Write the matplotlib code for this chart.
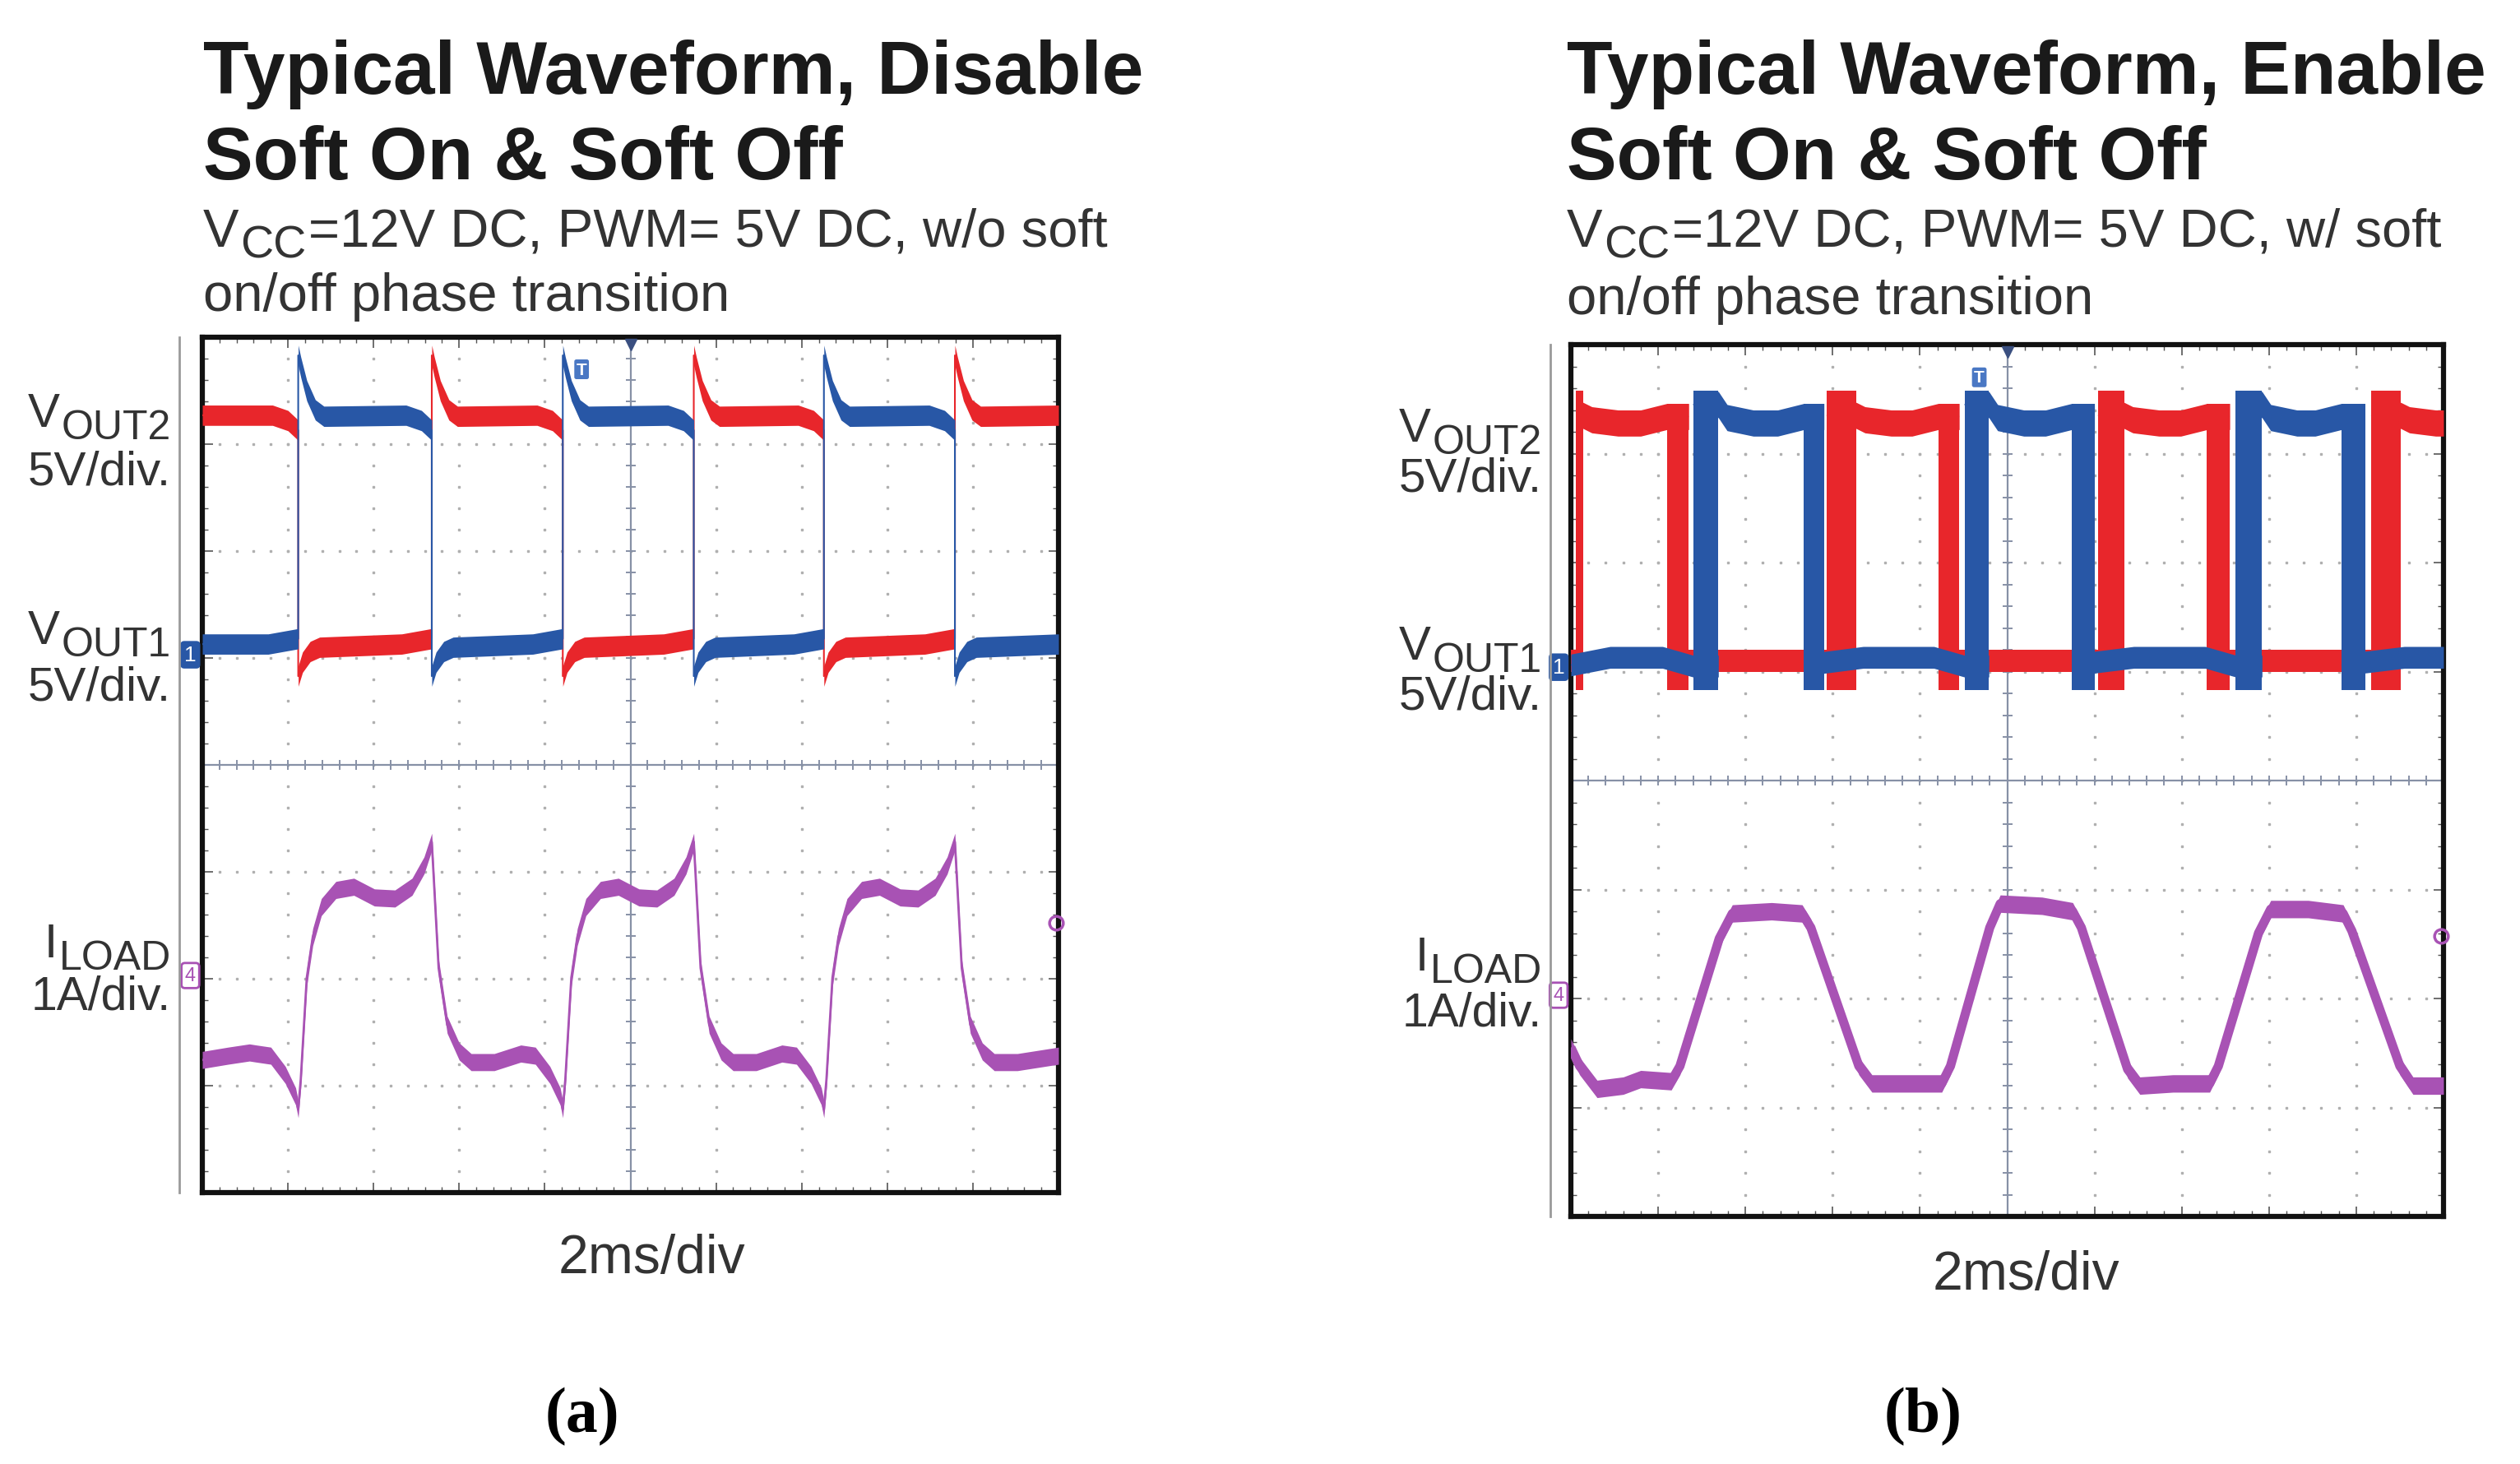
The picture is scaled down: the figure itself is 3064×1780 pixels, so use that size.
import matplotlib
matplotlib.use('Agg')
import numpy as np
import matplotlib.pyplot as plt
from matplotlib.lines import Line2D

W, H = 3064, 1781
DPI = 100

RED = '#e8262b'
BLUE = '#2857a6'
PURPLE = '#a852b4'
GRID = '#b0b0b0'
AXIS = '#8791a6'
TEXT = '#333333'

plt.rcParams['font.family'] = ['Liberation Sans', 'DejaVu Sans']

# ---------- panel (a): disable soft on / soft off ----------
A_EDGES = [1.12, 2.68, 4.21, 5.74, 7.26, 8.79]      # switching instants (div)
HI_FLAT = 3.27
HI_HEAD_DT = [0.0, 0.03, 0.10, 0.20, 0.30]
HI_HEAD_V = [3.83, 3.72, 3.50, 3.32, 3.26]
HI_TAIL_DT = [0.30, 0.12, 0.0]
HI_TAIL_V = [3.27, 3.22, 3.13]
LO_FLAT = 1.13
LO_HEAD_DT = [0.0, 0.05, 0.14, 0.25]
LO_HEAD_V = [0.83, 0.96, 1.06, 1.10]
LO_TAIL_DT = [0.35, 0.0]
LO_TAIL_V = [1.13, 1.18]

A_ILOAD_START_T = [0.0, 0.30, 0.55]
A_ILOAD_START_V = [-2.76, -2.72, -2.69]
RISE_DT = [0.0, 0.03, 0.10, 0.17, 0.27, 0.44, 0.65, 0.89]
RISE_V = [-3.22, -2.94, -1.99, -1.61, -1.33, -1.17, -1.14, -1.24]
PEAK_DT = [0.43, 0.23, 0.09, 0.0]
PEAK_V = [-1.25, -1.14, -0.94, -0.72]
FALL_DT = [0.02, 0.08, 0.18, 0.32, 0.46, 0.73]
FALL_V = [-1.01, -1.90, -2.43, -2.68, -2.78, -2.78]
DIP_DT = [0.49, 0.32, 0.15, 0.03]
DIP_V = [-2.70, -2.72, -2.90, -3.10]
A_ILOAD_END_V = -2.72

# ---------- panel (b): enable soft on / soft off ----------
B_RED_RISE_S = [0.06, 2.93, 6.04, 9.17]
B_RED_RISE_E = [0.14, 3.27, 6.34, 9.51]
B_RED_FALL_S = [1.10, 4.21, 7.29]
B_RED_FALL_E = [1.35, 4.45, 7.55]
B_BLUE_RISE_S = [1.40, 4.51, 7.62]
B_BLUE_RISE_E = [1.69, 4.79, 7.92]
B_BLUE_FALL_S = [2.67, 5.74, 8.83]
B_BLUE_FALL_E = [2.90, 6.00, 9.10]
B_HI = 3.28
B_LO = 1.10
B_RED_HEAD_V = [3.35, 3.31, 3.28]
B_BLUE_HEAD_V = [3.45, 3.33, 3.28]
B_HEAD_DT = [0.0, 0.10, 0.40]
B_TAIL_DT = [0.30, 0.0]
B_TAIL_V = [3.28, 3.34]
B_BLUE_LO_V = [1.06, 1.13, 1.13, 1.05]
B_COL_BOTTOM = 0.83
B_RISE_TOP = 3.58
B_FALL_TOP = 3.46

B_ILOAD_T = [0.0, 0.10, 0.30, 0.60, 0.80, 1.15, 1.25, 1.70, 1.85, 2.30, 2.65, 2.75,
             3.30, 3.45, 3.80, 4.25, 4.35, 4.80, 4.92, 5.40, 5.75, 5.85, 6.38, 6.52,
             6.90, 7.32, 7.42, 7.88, 8.02, 8.45, 8.85, 8.95, 9.50, 9.65, 10.0]
B_ILOAD_V = [-2.45, -2.62, -2.83, -2.80, -2.74, -2.76, -2.62, -1.45, -1.22, -1.20, -1.22, -1.35,
             -2.62, -2.78, -2.78, -2.78, -2.62, -1.35, -1.13, -1.15, -1.20, -1.35, -2.65, -2.80,
             -2.78, -2.78, -2.62, -1.40, -1.18, -1.18, -1.22, -1.38, -2.62, -2.80, -2.80]


def square_path(edges, start_high):
    bounds = [0.0] + list(edges) + [10.0]
    ts, vs = [], []
    high = start_high
    n = len(bounds) - 1
    for k in range(n):
        a, b = bounds[k], bounds[k + 1]
        if high:
            flat, hdt, hv, tdt, tv = HI_FLAT, HI_HEAD_DT, HI_HEAD_V, HI_TAIL_DT, HI_TAIL_V
        else:
            flat, hdt, hv, tdt, tv = LO_FLAT, LO_HEAD_DT, LO_HEAD_V, LO_TAIL_DT, LO_TAIL_V
        if k == 0:
            ts.append(a); vs.append(flat)
        else:
            ts += [a + d for d in hdt]; vs += hv
        if k == n - 1:
            ts.append(b); vs.append(flat)
        else:
            ts += [b - d for d in tdt]; vs += tv
        high = not high
    return ts, vs


def iload_path():
    ts = list(A_ILOAD_START_T)
    vs = list(A_ILOAD_START_V)
    for r, f in zip(A_EDGES[0::2], A_EDGES[1::2]):
        ts += [r - d for d in DIP_DT]; vs += DIP_V
        ts += [r + d for d in RISE_DT]; vs += RISE_V
        ts += [f - d for d in PEAK_DT]; vs += PEAK_V
        ts += [f + d for d in FALL_DT]; vs += FALL_V
    ts.append(10.0); vs.append(A_ILOAD_END_V)
    return ts, vs


def band(ax, ts, vs, half, color, lw=1.5, z=3):
    vs = np.asarray(vs)
    ax.fill_between(ts, vs - half, vs + half, color=color, lw=0, zorder=z)
    ax.plot(ts, vs, color=color, lw=lw, zorder=z, solid_joinstyle='round',
            solid_capstyle='butt')


def scope_frame(ax):
    ax.set_xlim(0, 10)
    ax.set_ylim(-4, 4)
    ax.set_xticks(range(11))
    ax.set_yticks(range(-4, 5))
    ax.set_xticks(np.arange(0, 10.01, 0.2), minor=True)
    ax.set_yticks(np.arange(-4, 4.01, 0.2), minor=True)
    ax.tick_params(which='both', direction='in', top=True, right=True,
                   labelbottom=False, labelleft=False, color='#555555')
    ax.tick_params(which='major', length=9, width=1.2)
    ax.tick_params(which='minor', length=5, width=1.0)
    for s in ax.spines.values():
        s.set_linewidth(4.5)
        s.set_color('#111111')
    # dotted graticule
    dots_y = np.arange(-4, 4.01, 0.2)
    dots_x = np.arange(0, 10.01, 0.2)
    for i in range(1, 10):
        if i != 5:
            ax.plot([i] * len(dots_y), dots_y, ls='none', marker='s', ms=1.8,
                    color=GRID, zorder=1)
    for j in range(-3, 4):
        if j != 0:
            ax.plot(dots_x, [j] * len(dots_x), ls='none', marker='s', ms=1.8,
                    color=GRID, zorder=1)
    # centre axes with ticks
    ax.axvline(5, color=AXIS, lw=1.6, zorder=2)
    ax.axhline(0, color=AXIS, lw=1.6, zorder=2)
    ax.plot([5] * len(dots_y), dots_y, ls='none', marker='_', ms=9, mew=1.4,
            color=AXIS, zorder=2)
    ax.plot(dots_x, [0] * len(dots_x), ls='none', marker='|', ms=9, mew=1.4,
            color=AXIS, zorder=2)
    ax.plot(5, 3.93, marker='v', ms=10, color='#3a4f80', zorder=5, clip_on=False)


def markers(ax, trig_t, y1, y4, yr):
    ax.text(trig_t, 3.70, 'T', ha='center', va='center', color='white', fontsize=15,
            fontweight='bold', zorder=6,
            bbox=dict(boxstyle='round,pad=0.12', fc='#4a78c4', ec='none'))
    ax.text(-0.14, y1, '1', ha='center', va='center', color='white', fontsize=19,
            zorder=6, clip_on=False,
            bbox=dict(boxstyle='round,pad=0.18', fc=BLUE, ec='none'))
    ax.text(-0.14, y4, '4', ha='center', va='center', color=PURPLE, fontsize=17,
            zorder=6, clip_on=False,
            bbox=dict(boxstyle='round,pad=0.18', fc='white', ec=PURPLE, lw=2))
    ax.plot(9.97, yr, marker='o', ms=12, mfc='none', mec=PURPLE, mew=2.5, zorder=6,
            clip_on=False)


fig = plt.figure(figsize=(W / DPI, H / DPI), dpi=DPI)
renderer = fig.canvas.get_renderer()

ax_a = fig.add_axes([246 / W, 1 - 1451 / H, 1041 / W, 1040 / H])
ax_b = fig.add_axes([1910 / W, 1 - 1480 / H, 1061 / W, 1060 / H])
for ax in (ax_a, ax_b):
    scope_frame(ax)

# panel (a) traces
t_r, v_r = square_path(A_EDGES, True)
t_b, v_b = square_path(A_EDGES, False)
band(ax_a, t_r, v_r, 0.095, RED)
band(ax_a, t_b, v_b, 0.095, BLUE)
t_i, v_i = iload_path()
band(ax_a, t_i, v_i, 0.08, PURPLE, lw=2.0)
markers(ax_a, 4.43, 1.03, -1.97, -1.48)

# panel (b) traces


def high_segments(rs, re_, fs, fe, head_v):
    segs = []
    for k in range(len(rs)):
        ts = [rs[k]] + [re_[k] + d for d in B_HEAD_DT]
        vs = [head_v[0]] + list(head_v)
        if k < len(fs):
            ts += [fs[k] - d for d in B_TAIL_DT] + [fe[k]]
            vs += B_TAIL_V + [B_TAIL_V[-1]]
        else:
            ts.append(10.0); vs.append(B_HI)
        segs.append((ts, vs))
    return segs


def draw_channel(ax, rs, re_, fs, fe, head_v, color, low_shape):
    starts = [0.0] + list(fs)
    ends = list(re_) + ([10.0] if len(fs) >= len(rs) else [])
    for k, (s, e) in enumerate(zip(starts, ends)):
        if low_shape is None:
            band(ax, [s, e], [B_LO, B_LO], 0.10, color, lw=1.0)
        else:
            r_s = rs[k] if k < len(rs) else None
            s_in = s if k == 0 else fe[k - 1]
            ts = [s, s_in + 0.45]
            vs = [low_shape[0], low_shape[1]]
            if r_s is not None:
                ts += [r_s - 0.35, r_s, e]
                vs += [low_shape[2], low_shape[3], low_shape[3]]
            else:
                ts += [e]
                vs += [low_shape[2]]
            band(ax, ts, vs, 0.10, color, lw=1.0)
    for ts, vs in high_segments(rs, re_, fs, fe, head_v):
        band(ax, ts, vs, 0.12, color, lw=1.0)
    for s, e in zip(rs, re_):
        ax.fill_between([s, e], B_COL_BOTTOM, B_RISE_TOP, color=color, lw=0, zorder=3)
    for s, e in zip(fs, fe):
        ax.fill_between([s, e], B_COL_BOTTOM, B_FALL_TOP, color=color, lw=0, zorder=3)


draw_channel(ax_b, B_RED_RISE_S, B_RED_RISE_E, B_RED_FALL_S, B_RED_FALL_E,
             B_RED_HEAD_V, RED, None)
draw_channel(ax_b, B_BLUE_RISE_S, B_BLUE_RISE_E, B_BLUE_FALL_S, B_BLUE_FALL_E,
             B_BLUE_HEAD_V, BLUE, B_BLUE_LO_V)
band(ax_b, B_ILOAD_T, B_ILOAD_V, 0.08, PURPLE, lw=8)
markers(ax_b, 4.68, 1.04, -1.97, -1.43)

# thin grey rules left of the screens
fig.add_artist(Line2D([218 / W, 218 / W], [1 - 411 / H, 1 - 1451 / H], color='#9a9a9a', lw=2))
fig.add_artist(Line2D([1885 / W, 1885 / W], [1 - 420 / H, 1 - 1480 / H], color='#9a9a9a', lw=2))


def put_runs(x, y, parts, align='left', color=TEXT):
    items = []
    for s, size, dy in parts:
        t = fig.text(0, 0, s, fontsize=size, color=color, va='baseline', ha='left')
        items.append((t, dy))
    widths = [t.get_window_extent(renderer).width for t, _ in items]
    cx = x - sum(widths) - 2 * (len(items) - 1) if align == 'right' else x
    for (t, dy), w in zip(items, widths):
        t.set_position((cx / W, 1 - (y + dy) / H))
        cx += w + 2


def panel_text(x0, title1, title2, sub_rest, sub2, lab_x, lab_y, xlab_x, xlab_y, tag, tag_x):
    fig.text(x0 / W, 1 - 114 / H, title1, fontsize=65.5, fontweight='bold', color='#1a1a1a',
             va='baseline')
    fig.text(x0 / W, 1 - 218 / H, title2, fontsize=65.5, fontweight='bold', color='#1a1a1a',
             va='baseline')
    put_runs(x0, 300, [('V', 47, 0), ('CC', 40, 14), (sub_rest, 47, 0)])
    fig.text(x0 / W, 1 - sub2 / H, 'on/off phase transition', fontsize=47, color=TEXT,
             va='baseline')
    y2, y2d, y1, y1d, yi, yid = lab_y
    put_runs(lab_x, y2, [('V', 42, 0), ('OUT2', 36, 15)], align='right')
    put_runs(lab_x, y2d, [('5V/div.', 42, 0)], align='right')
    put_runs(lab_x, y1, [('V', 42, 0), ('OUT1', 36, 15)], align='right')
    put_runs(lab_x, y1d, [('5V/div.', 42, 0)], align='right')
    put_runs(lab_x, yi, [('I', 42, 0), ('LOAD', 36, 15)], align='right')
    put_runs(lab_x, yid, [('1A/div.', 41, 0)], align='right')
    fig.text(xlab_x / W, 1 - xlab_y / H, '2ms/div', fontsize=47.5, color=TEXT,
             ha='center', va='baseline')
    fig.text(tag_x / W, 1 - 1723 / H, tag, fontsize=56, fontweight='bold',
             family='Liberation Serif', color='black', ha='center', va='center')


panel_text(247, 'Typical Waveform, Disable', 'Soft On & Soft Off',
           '=12V DC, PWM= 5V DC, w/o soft', 378, 208,
           (519, 590, 783, 851, 1164, 1228), 792, 1548, '(a)', 708)
panel_text(1905, 'Typical Waveform, Enable', 'Soft On & Soft Off',
           '=12V DC, PWM= 5V DC, w/ soft', 382, 1875,
           (537, 598, 802, 863, 1180, 1248), 2463, 1568, '(b)', 2338)

fig.savefig('out.png', dpi=DPI, facecolor='white')
